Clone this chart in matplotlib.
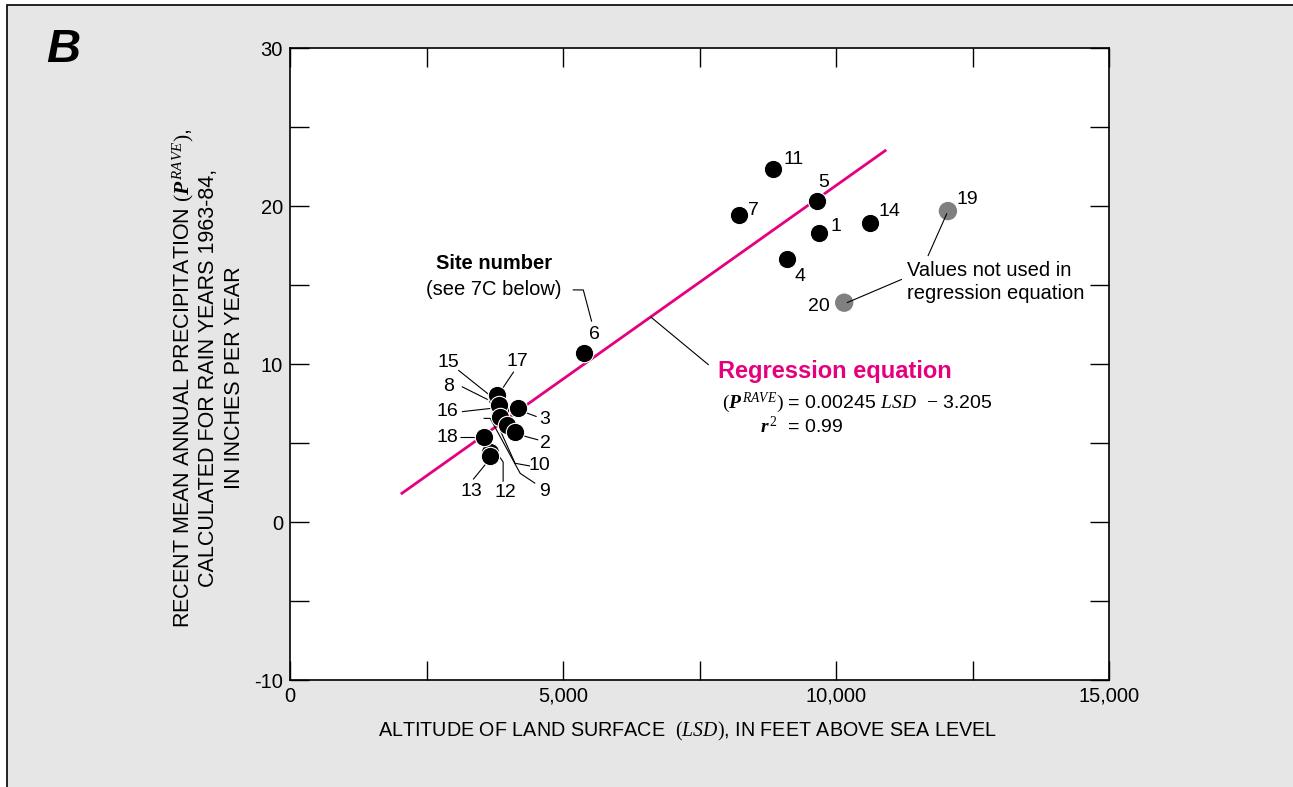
import matplotlib
matplotlib.use("Agg")
import matplotlib.pyplot as plt
from matplotlib.patches import Rectangle

plt.rcParams['font.family'] = ['Liberation Sans', 'DejaVu Sans']
plt.rcParams['mathtext.fontset'] = 'custom'
plt.rcParams['mathtext.rm'] = 'Liberation Serif'
plt.rcParams['mathtext.it'] = 'Liberation Serif:italic'
plt.rcParams['mathtext.bf'] = 'Liberation Serif:bold'
plt.rcParams['mathtext.bfit'] = 'Liberation Serif:italic:bold'

# ---------------- data ----------------
site_ids = ['1', '2', '3', '4', '5', '6', '7', '8', '9', '10',
            '11', '12', '13', '14', '15', '16', '17', '18']
altitude_ft = [9690, 4120, 4180, 9110, 9660, 5390, 8220, 3830, 3850, 3970,
               8850, 3660, 3660, 10620, 3790, 3850, 3800, 3550]
precip_in = [18.27, 5.72, 7.20, 16.63, 20.32, 10.72, 19.43, 7.41, 6.66, 6.14,
             22.32, 4.43, 4.17, 18.91, 7.78, 7.09, 8.04, 5.40]

excluded_ids = ['19', '20']
excluded_alt_ft = [12050, 10150]
excluded_precip_in = [19.68, 13.88]

reg_slope = 0.00245
reg_intercept = -3.205
reg_alt_range = [2050, 10900]

x_ticks = [0, 2500, 5000, 7500, 10000, 12500, 15000]
x_ticklabels = ['0', '', '5,000', '', '10,000', '', '15,000']
y_ticks = [-10, -5, 0, 5, 10, 15, 20, 25, 30]
y_ticklabels = ['-10', '', '0', '', '10', '', '20', '', '30']

# ---------------- layout ----------------
W, H = 1293, 787
MAGENTA = '#E5007E'
fig = plt.figure(figsize=(W / 100, H / 100), dpi=100)
fig.patch.set_facecolor('white')
fig.patches.append(Rectangle((7 / W, -0.05), 1.1, 1 - 5 / H + 0.05,
                             transform=fig.transFigure, facecolor='#E6E6E6',
                             edgecolor='black', linewidth=1.2, zorder=-10))

ax = fig.add_axes([290 / W, (H - 680) / H, 819 / W, 632 / H])
ax.set_zorder(1)
ax.set_facecolor('white')
ax.set_xlim(0, 15000)
ax.set_ylim(-10, 30)
for s in ax.spines.values():
    s.set_linewidth(1.2)
ax.set_xticks(x_ticks)
ax.set_xticklabels(x_ticklabels)
ax.set_yticks(y_ticks)
ax.set_yticklabels(y_ticklabels)
ax.tick_params(direction='in', top=True, right=True, length=13.7, width=1.0,
               labelsize=14.5, color='black')
ax.tick_params(axis='x', pad=5.0)
ax.tick_params(axis='y', pad=5.0)

def off(x, y, dx, dy):
    X, Y = ax.transData.transform((x, y))
    return ax.transData.inverted().transform((X + dx, Y - dy))

def leader(x, y, pts, z=2):
    xy = [off(x, y, dx, dy) for dx, dy in pts]
    ax.plot([p[0] for p in xy], [p[1] for p in xy], color='black', lw=0.8,
            zorder=z, solid_capstyle='butt')

# regression line
reg_y = [reg_slope * a + reg_intercept for a in reg_alt_range]
ax.plot(reg_alt_range, reg_y, color=MAGENTA, lw=2.0, zorder=1)

# draw order (back to front) for overlapping points
draw_order = ['12', '13', '18', '15', '17', '16', '8', '9', '10', '2', '3',
              '1', '4', '5', '6', '7', '11', '14']
pt = {sid: (a, p) for sid, a, p in zip(site_ids, altitude_ft, precip_in)}

# leaders for the cluster (pixel offsets from the point; dy down)
cluster = {
    '15': ((-49, -37), [(-38.7, -29), (-5.3, -2.3)]),
    '17': ((20, -33), [(16.3, -23.3), (4, -5)]),
    '8': ((-51, -18), [(-37.3, -18.3), (-7.3, -3.3)]),
    '16': ((-53, 2), [(-38.3, 1.7), (-8.3, -1.7)]),
    '3': ((26, 11), [(18.4, 8.4), (5, 3.4)]),
    '2': ((30, 12), [(23.3, 8.3), (5, 3.3)]),
    '18': ((-36, 0.5), [(-24, 0), (-5.7, 0)]),
    '13': ((-18, 35), [(-16.7, 23.3), (-1.7, 5)]),
    '12': ((16, 40), [(13.3, 29.7), (13.3, 10), (5, -2)]),
    '10': ((33, 41), [(23.3, 41), (8.3, 38.3), (-6.7, 5)]),
    '9': ((44, 75), [(35, 66.6), (20, 56.6), (-10, 1.6), (-16.7, 1.6)]),
}
free_labels = {
    '1': (17, 7), '4': (13, -17.4), '5': (6, 18), '6': (10, 18.4),
    '7': (15, 5), '11': (20, 10), '14': (20, 12),
}

for z, sid in enumerate(draw_order):
    a, p = pt[sid]
    ax.scatter([a], [p], s=175, color='black', edgecolors='white',
               linewidths=0.8, zorder=10 + z)

for sid, (toff, lpts) in cluster.items():
    a, p = pt[sid]
    leader(a, p, lpts, z=3)
    ax.annotate(sid, xy=(a, p), xytext=(toff[0], -toff[1]),
                textcoords='offset pixels', ha='center', va='center',
                fontsize=14, zorder=40)

for sid, (dx, dy) in free_labels.items():
    a, p = pt[sid]
    ax.annotate(sid, xy=(a, p), xytext=(dx, dy), textcoords='offset pixels',
                ha='center', va='center', fontsize=14, zorder=40)

# excluded points
ax.scatter(excluded_alt_ft, excluded_precip_in, s=175, color='#808080',
           edgecolors='none', zorder=30)
ex = {sid: (a, p) for sid, a, p in zip(excluded_ids, excluded_alt_ft, excluded_precip_in)}
ax.annotate('19', xy=ex['19'], xytext=(19, 11.7), textcoords='offset pixels',
            ha='center', va='center', fontsize=14, zorder=40)
ax.annotate('20', xy=ex['20'], xytext=(-25.7, -4), textcoords='offset pixels',
            ha='center', va='center', fontsize=14, zorder=40)
leader(*ex['19'], [(-1, 2.3), (-20, 45)], z=35)
leader(*ex['20'], [(2.7, 0), (57.7, -23.4)], z=35)
a19, p19 = ex['19']
ax.annotate('Values not used in\nregression equation', xy=(a19, p19),
            xytext=(-40.7, -71), textcoords='offset pixels', ha='left',
            va='center', fontsize=14.5, linespacing=1.3, zorder=40)

# site-number callout
a6, p6 = pt['6']
leader(a6, p6, [(-11.6, -62.7), (-1, -62.7), (7.4, -31)], z=3)
ax.annotate('Site number', xy=(a6, p6), xytext=(-90, 88.7),
            textcoords='offset pixels', ha='center', va='center',
            fontsize=14.5, fontweight='bold', zorder=40)
ax.annotate('(see 7C below)', xy=(a6, p6), xytext=(-91, 62.7),
            textcoords='offset pixels', ha='center', va='center',
            fontsize=14.5, zorder=40)

# regression callout
a_c = 6606
p_c = reg_slope * a_c + reg_intercept
leader(a_c, p_c, [(0, 0), (58, 48)], z=3)

fig.text(718 / W, 1 - 372 / H, 'Regression equation', ha='left', va='center',
         fontsize=17, fontweight='bold', color=MAGENTA, zorder=5)
fig.text(722 / W, 1 - 403 / H,
         r'$(\mathbfit{P}^{\,\mathit{RAVE}})$ = 0.00245 $\mathit{LSD}$  $-$ 3.205',
         ha='left', va='center', fontsize=14, zorder=5)
fig.text(760 / W, 1 - 427 / H, r'$\mathbfit{r}^{\,\mathit{2}}$  = 0.99',
         ha='left', va='center', fontsize=14, zorder=5)

# axis labels
fig.text(688 / W, 1 - 731 / H,
         r'ALTITUDE OF LAND SURFACE  $(\mathit{LSD})$, IN FEET ABOVE SEA LEVEL',
         ha='center', va='center', fontsize=14.2)
ylines = [r'RECENT MEAN ANNUAL PRECIPITATION $(\mathbfit{P}^{\,\mathit{RAVE}})$,',
          'CALCULATED FOR RAIN YEARS 1963-84,',
          'IN INCHES PER YEAR']
for xpx, txt in zip([183, 209, 234], ylines):
    fig.text(xpx / W, 1 - 378 / H, txt, rotation=90, ha='center', va='center',
             fontsize=15.5)

fig.text(63 / W, 1 - 50 / H, 'B', ha='center', va='center', fontsize=34,
         fontweight='bold', fontstyle='italic')

fig.savefig('out.png', dpi=100)
